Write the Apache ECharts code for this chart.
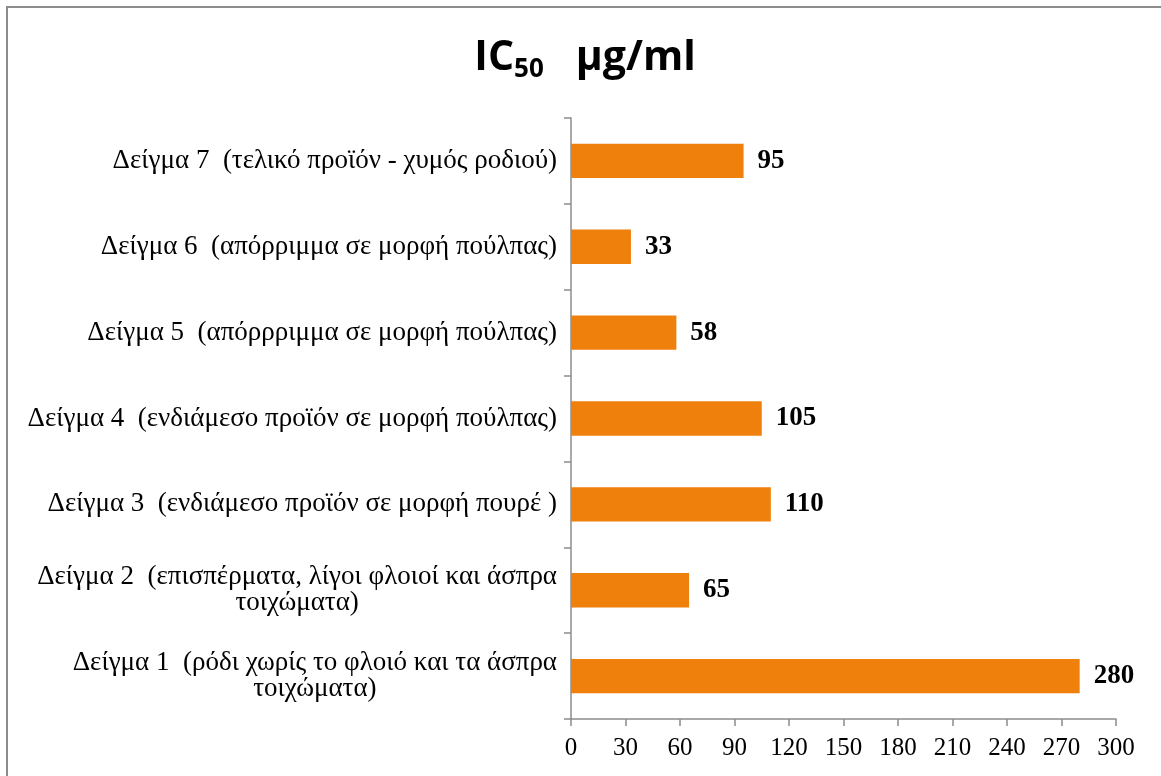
<!DOCTYPE html>
<html>
<head>
<meta charset="utf-8">
<script src="https://cdn.jsdelivr.net/npm/echarts@6/dist/echarts.min.js"></script>
<style>
  html, body { margin: 0; padding: 0; background: #fff; }
  #chart { width: 1161px; height: 776px; }
</style>
</head>
<body>
<div id="chart"></div>
<script>
// Sample names (bottom to top on the category axis)
const categories = [
  'Δείγμα 1  (ρόδι χωρίς το φλοιό και τα άσπρα\nτοιχώματα)',
  'Δείγμα 2  (επισπέρματα, λίγοι φλοιοί και άσπρα\nτοιχώματα)',
  'Δείγμα 3  (ενδιάμεσο προϊόν σε μορφή πουρέ )',
  'Δείγμα 4  (ενδιάμεσο προϊόν σε μορφή πούλπας)',
  'Δείγμα 5  (απόρρριμμα σε μορφή πούλπας)',
  'Δείγμα 6  (απόρριμμα σε μορφή πούλπας)',
  'Δείγμα 7  (τελικό προϊόν - χυμός ροδιού)'
];
// IC50 values in µg/ml
const ic50Values = [280, 65, 110, 105, 58, 33, 95];
// Value axis ticks
const axisMin = 0;
const axisMax = 300;
const axisStep = 30;

const serif = '"Liberation Serif", "Times New Roman", serif';
const catSize = 27;
const tickSize = 25;

const chart = echarts.init(document.getElementById('chart'), null, { renderer: 'canvas' });

chart.setOption({
  animation: false,
  backgroundColor: '#ffffff',
  title: {
    text: '{a|IC}{b|50}{a|   µg/ml}',
    left: 585,
    top: 33,
    padding: 0,
    textAlign: 'center',
    textStyle: {
      rich: {
        a: { fontFamily: '"Open Sans", sans-serif', fontWeight: 'bold', fontSize: 41, lineHeight: 50, color: '#000' },
        b: { fontFamily: '"Open Sans", sans-serif', fontWeight: 'bold', fontSize: 26, lineHeight: 18, verticalAlign: 'bottom', color: '#000' }
      }
    }
  },
  graphic: [{
    type: 'polyline',
    silent: true,
    shape: { points: [[7, 790], [7, 7], [1175, 7]] },
    style: { stroke: '#8c8c8c', lineWidth: 2, fill: null }
  }],
  grid: { left: 571, right: 45, top: 118, bottom: 57, containLabel: false },
  xAxis: {
    type: 'value',
    min: axisMin,
    max: axisMax,
    interval: axisStep,
    axisLine: { show: true, lineStyle: { color: '#8c8c8c', width: 1.5 } },
    axisTick: { show: true, length: 7, lineStyle: { color: '#8c8c8c', width: 1.5 } },
    splitLine: { show: false },
    axisLabel: { color: '#000', fontFamily: serif, fontSize: tickSize, margin: 17 }
  },
  yAxis: {
    type: 'category',
    data: categories,
    axisLine: { show: true, lineStyle: { color: '#8c8c8c', width: 1.5 } },
    axisTick: { show: true, length: 7, lineStyle: { color: '#8c8c8c', width: 1.5 } },
    axisLabel: {
      margin: 14,
      color: '#000',
      fontFamily: serif,
      fontSize: catSize,
      lineHeight: 26,
      formatter: function (v) {
        return v.split('\n').map(function (s) { return '{c|' + s + '}'; }).join('\n');
      },
      rich: {
        c: { align: 'center', fontFamily: serif, fontSize: catSize, lineHeight: 26, color: '#000' }
      }
    }
  },
  series: [{
    type: 'bar',
    data: ic50Values,
    barCategoryGap: '60%',
    itemStyle: { color: '#F0800C' },
    label: {
      show: true,
      position: 'right',
      distance: 14,
      color: '#000',
      fontFamily: serif,
      fontWeight: 'bold',
      fontSize: 27
    }
  }]
});
</script>
</body>
</html>
